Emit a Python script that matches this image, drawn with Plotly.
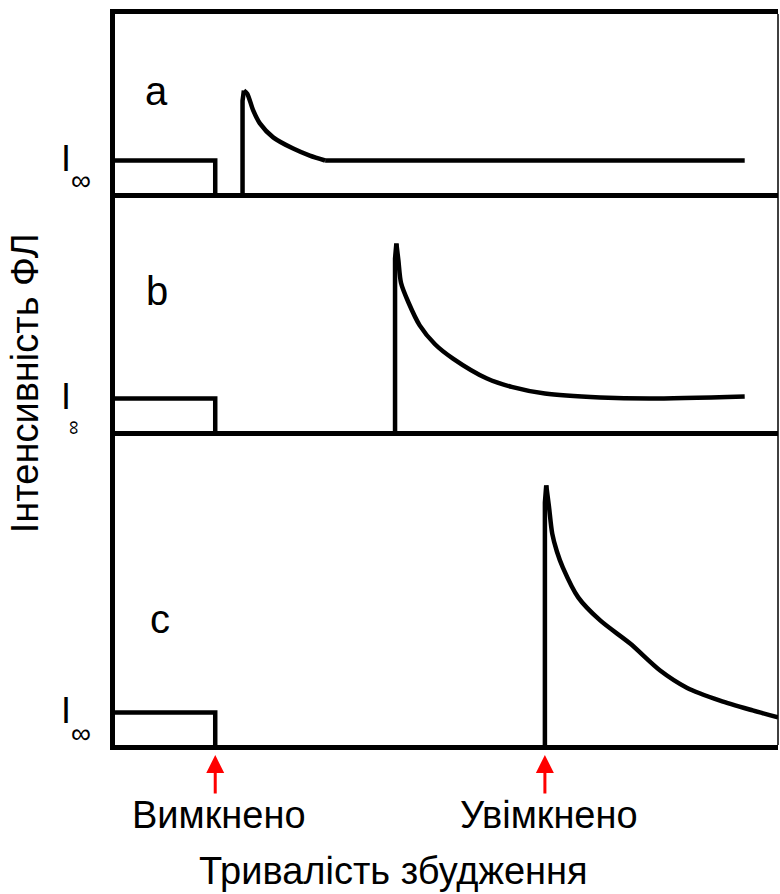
import plotly.graph_objects as go
from plotly.subplots import make_subplots

# ---- data (time in arbitrary units, intensity in units of I_inf) ----
# part before the decay: steady level, switch-off, dark period, switch-on spike
step_t_a = [0, 1.55, 1.55, 1.96, 1.96, 1.98]
step_i_a = [1.0, 1.0, 0, 0, 2.7, 3.0]
decay_t_a = [1.98, 2.03, 2.12, 2.22, 2.42, 2.72, 2.97, 3.2]
decay_i_a = [3.0, 2.91, 2.43, 2.06, 1.66, 1.34, 1.14, 1.0]
tail_t_a = [3.2, 9.5]
tail_i_a = [1.0, 1.0]

step_t_b = [0, 1.55, 1.55, 4.25, 4.25, 4.27]
step_i_b = [1.0, 1.0, 0, 0, 5.0, 5.43]
decay_t_b = [4.27, 4.30, 4.34, 4.45, 4.62, 4.85, 5.12, 5.63, 6.0, 6.5, 7.33, 8.08, 9.5]
decay_i_b = [5.43, 4.95, 4.3, 3.75, 3.09, 2.55, 2.14, 1.57, 1.33, 1.14, 1.03, 1.0, 1.06]
tail_t_b = []
tail_i_b = []

step_t_c = [0, 1.55, 1.55, 6.5, 6.5, 6.52]
step_i_c = [1.0, 1.0, 0, 0, 7.0, 7.49]
decay_t_c = [6.52, 6.56, 6.61, 6.68, 6.77, 7.0, 7.33, 7.78, 8.23, 8.63, 9.13, 9.62, 10.0]
decay_i_c = [7.49, 6.9, 6.11, 5.6, 5.14, 4.29, 3.63, 2.97, 2.2, 1.71, 1.34, 1.06, 0.86]
tail_t_c = []
tail_i_c = []

panel_labels = ["a", "b", "c"]
panel_label_y = [3.0, 4.06, 3.67]
y_top = [5.186, 6.871, 9.043]
y_bottom = 0.0714
x_range = [0.045, 10.0]
arrow_t = [1.55, 6.5]
arrow_labels = ["Вимкнено", "Увімкнено"]
x_title = "Тривалість збудження"
y_title = "Інтенсивність ФЛ"

FONT = "Liberation Sans, Arial, sans-serif"

fig = make_subplots(rows=3, cols=1, shared_xaxes=True, vertical_spacing=0,
                    row_heights=[179, 238, 314])

series = [(step_t_a, step_i_a, decay_t_a, decay_i_a, tail_t_a, tail_i_a),
          (step_t_b, step_i_b, decay_t_b, decay_i_b, tail_t_b, tail_i_b),
          (step_t_c, step_i_c, decay_t_c, decay_i_c, tail_t_c, tail_i_c)]

for r, (st, si, dt, di, tt, ti) in enumerate(series, start=1):
    fig.add_trace(go.Scatter(x=st, y=si, mode="lines",
                             line=dict(color="black", width=4.5),
                             showlegend=False, hoverinfo="skip"), row=r, col=1)
    fig.add_trace(go.Scatter(x=dt, y=di, mode="lines",
                             line=dict(color="black", width=4.5, shape="spline",
                                       smoothing=0.8),
                             showlegend=False, hoverinfo="skip"), row=r, col=1)
    if tt:
        fig.add_trace(go.Scatter(x=tt, y=ti, mode="lines",
                                 line=dict(color="black", width=4.5),
                                 showlegend=False, hoverinfo="skip"), row=r, col=1)
    fig.update_yaxes(range=[y_bottom, y_top[r - 1]], showticklabels=False, ticks="",
                     showgrid=False, zeroline=False, showline=True,
                     linecolor="black", linewidth=5, mirror=False, row=r, col=1)
    fig.update_xaxes(range=x_range, showticklabels=False, ticks="", showgrid=False,
                     zeroline=False, showline=True, linecolor="black",
                     linewidth=5, mirror=(r == 1), row=r, col=1)

# thin right border
fig.add_shape(type="line", xref="paper", yref="paper", x0=1, x1=1, y0=0, y1=1,
              line=dict(color="black", width=1.5))

yrefs = ["y", "y2", "y3"]
label_x = [0.0626, 0.0626, 0.068]
inf_x = [-0.0513, -0.0603, -0.0513]
inf_y = [0.43, 0.17, 0.41]
for k in range(3):
    fig.add_annotation(text=panel_labels[k], xref="paper", yref=yrefs[k],
                       x=label_x[k], y=panel_label_y[k], showarrow=False,
                       font=dict(family=FONT, size=40, color="black"),
                       xanchor="center", yanchor="middle")
    fig.add_annotation(text="I", xref="paper", yref=yrefs[k],
                       x=-0.0732, y=1.0, showarrow=False,
                       font=dict(family=FONT, size=36, color="black"),
                       xanchor="center", yanchor="middle", yshift=2)
    fig.add_annotation(text="∞", xref="paper", yref=yrefs[k],
                       x=inf_x[k], y=inf_y[k],
                       showarrow=False, textangle=90 if k == 1 else 0,
                       font=dict(family=FONT, size=28 if k != 1 else 20, color="black"),
                       xanchor="center", yanchor="middle")

for tx, lab in zip(arrow_t, arrow_labels):
    fig.add_annotation(x=tx, y=-0.0137, xref="x3", yref="paper", ax=0, ay=40,
                       text="", showarrow=True, arrowhead=2, arrowsize=1.2,
                       arrowwidth=3, arrowcolor="red")
    fig.add_annotation(x=tx, y=-0.0958, xref="x3", yref="paper", text=lab,
                       showarrow=False, xshift=4,
                       font=dict(family=FONT, size=38, color="black"),
                       xanchor="center", yanchor="middle")

fig.add_annotation(text=x_title, xref="paper", yref="paper", x=0.4208, y=-0.1724,
                   showarrow=False, font=dict(family=FONT, size=38, color="black"),
                   xanchor="center", yanchor="middle")
fig.add_annotation(text=y_title, xref="paper", yref="paper", x=-0.1357, y=0.495,
                   showarrow=False, textangle=-90,
                   font=dict(family=FONT, size=38, color="black"),
                   xanchor="center", yanchor="middle")

fig.update_layout(width=780, height=894, margin=dict(l=115, r=2, t=14, b=149),
                  plot_bgcolor="white", paper_bgcolor="white")

fig.write_html("out.html")
